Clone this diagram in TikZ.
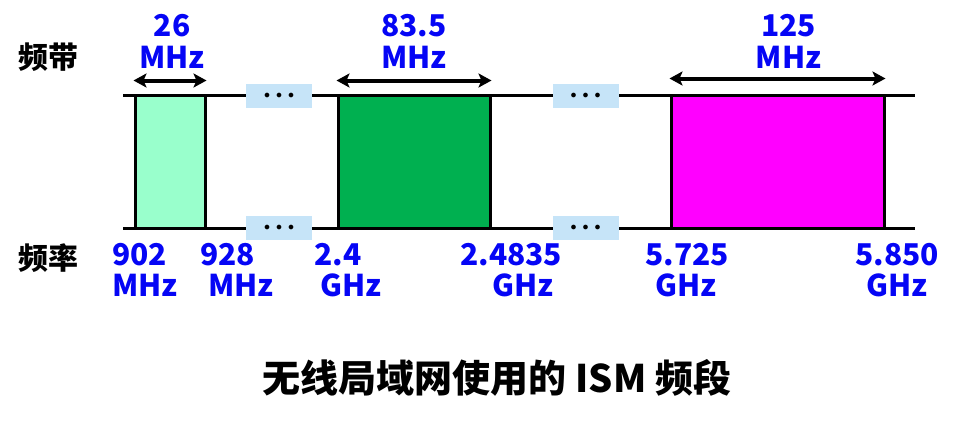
\documentclass[tikz,border=0pt]{standalone}
\usepackage{fontspec}
\setmainfont{Noto Sans CJK SC}
\usetikzlibrary{positioning, arrows.meta}

\definecolor{mint}{HTML}{99FFCC}
\definecolor{bandgreen}{HTML}{00B050}
\definecolor{bandpink}{HTML}{FF00FF}
\definecolor{gapblue}{HTML}{C6E4F8}
\definecolor{labelblue}{HTML}{0505F5}

\begin{document}
\begin{tikzpicture}[x=1pt, y=-1pt,
	band/.style={draw, line width=3pt, inner sep=0pt, minimum height=133pt},
	gap/.style={fill=gapblue, inner sep=0pt, minimum width=66pt, minimum height=24pt, font=\fontsize{13}{13}\selectfont},
	bw/.style={text=labelblue, font=\fontsize{30}{32}\selectfont\bfseries, inner sep=0pt, align=center},
	freq/.style={text=labelblue, font=\fontsize{30}{31}\selectfont\bfseries, inner sep=0pt, align=left, anchor=north west},
	span/.style={{Stealth[length=13pt, width=14pt, inset=3pt]}-{Stealth[length=13pt, width=14pt, inset=3pt]}, line width=4pt}]
	
	\useasboundingbox (0,0) rectangle (958,421);
	
	% Row labels
	\node[font=\fontsize{30}{30}\selectfont\bfseries] (band) at (48,57) {频带};
	\node[font=\fontsize{30}{30}\selectfont\bfseries] (rate) at (48,258) {频率};
	
	% Lines
	\coordinate (tl) at (123,95);
	\coordinate (tr) at (915,95);
	\coordinate (bl) at (123,228);
	\coordinate (br) at (915,228);
	\draw[line width=3pt] (tl) -- (tr);
	\draw[line width=3pt] (bl) -- (br);
	
	% Gaps
	\node[gap] (g1t) at (279,96) {$\bullet$\hspace{6pt}$\bullet$\hspace{6pt}$\bullet$};
	\node[gap] (g1b) at (279,228) {$\bullet$\hspace{6pt}$\bullet$\hspace{6pt}$\bullet$};
	\node[gap] (g2t) at (585.5,96) {$\bullet$\hspace{6pt}$\bullet$\hspace{6pt}$\bullet$};
	\node[gap] (g2b) at (585.5,228) {$\bullet$\hspace{6pt}$\bullet$\hspace{6pt}$\bullet$};
	
	% Bands
	\node[band, fill=mint, minimum width=70pt] (b1) at (170,161.5) {};
	\node[band, fill=bandgreen, minimum width=152pt] (b2) at (414,161.5) {};
	\node[band, fill=bandpink, minimum width=213pt] (b3) at (777.5,161.5) {};
	
	% Widths
	\draw[span] ([yshift=13pt]b1.north west) -- ([yshift=13pt]b1.north east);
	\draw[span] ([yshift=13pt]b2.north west) -- ([yshift=13pt]b2.north east);
	\draw[span] ([yshift=15pt]b3.north west) -- ([yshift=15pt]b3.north east);
	\node[bw, above=25pt of b1, xshift=2pt] (w1) {26\\MHz};
	\node[bw, above=25pt of b2] (w2) {83.5\\MHz};
	\node[bw, above=25pt of b3, xshift=11pt] (w3) {125\\MHz};
	
	% Frequencies
	\node[freq] (f902) at (112,243) {902\\MHz};
	\node[freq] (f928) at (200,243) {928\\\hspace*{8pt}MHz};
	\node[freq] (f24) at (314,243) {2.4\\\hspace*{6pt}GHz};
	\node[freq] (f24835) at (460,243) {2.4835\\\hspace*{32pt}GHz};
	\node[freq] (f5725) at (645,243) {5.725\\\hspace*{10pt}GHz};
	\node[freq] (f5850) at (855,243) {5.850\\\hspace*{11pt}GHz};
	
	% Title
	\node[font=\fontsize{38}{38}\selectfont\bfseries] (title) at (497,378) {无线局域网使用的 ISM 频段};
	
\end{tikzpicture}
\end{document}
